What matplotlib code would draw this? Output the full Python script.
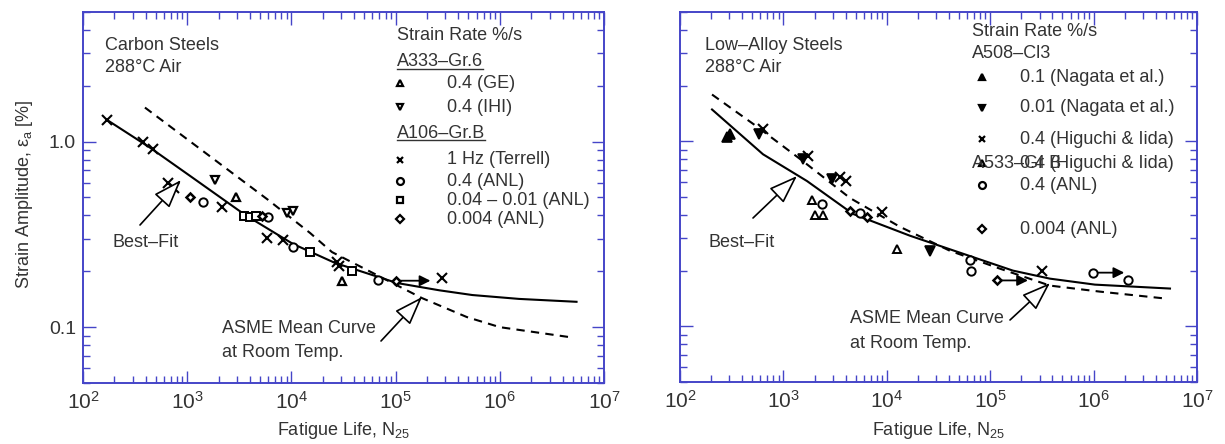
import matplotlib
matplotlib.use('Agg')
import matplotlib.pyplot as plt
from matplotlib.ticker import LogLocator, NullFormatter, LogFormatterMathtext

plt.rcParams['font.family'] = ['Liberation Sans', 'DejaVu Sans']
plt.rcParams['mathtext.fontset'] = 'custom'
plt.rcParams['mathtext.rm'] = 'Liberation Sans'
plt.rcParams['mathtext.it'] = 'Liberation Sans:italic'
plt.rcParams['mathtext.default'] = 'regular'

W, H = 1225, 444
TXT = '#333333'
SPINE = '#4545c8'

# ---------------- Carbon steels (left) ----------------
cs_fit_N = [170, 440, 1060, 3590, 10350, 26200, 103000, 263000, 545000, 1530000, 5450000]
cs_fit_eps = [1.31, 0.928, 0.655, 0.403, 0.281, 0.222, 0.173, 0.158, 0.149, 0.142, 0.137]
cs_asme_N = [393, 5960, 15100, 24500, 179000, 484000, 1000000, 4720000]
cs_asme_eps = [1.527, 0.486, 0.322, 0.254, 0.1435, 0.1133, 0.100, 0.0883]

cs_ge_N = [2940, 30600]
cs_ge_eps = [0.504, 0.177]
cs_ihi_N = [1850, 9080, 10350]
cs_ihi_eps = [0.62, 0.413, 0.424]
cs_terrell_N = [170, 377, 470, 655, 746, 2160, 5830, 8300, 27400, 28500, 279000]
cs_terrell_eps = [1.31, 1.0, 0.917, 0.60, 0.564, 0.445, 0.303, 0.296, 0.224, 0.213, 0.184]
cs_anl04_N = [1420, 5960, 10350, 67700]
cs_anl04_eps = [0.474, 0.393, 0.271, 0.179]
cs_anl004_01_N = [3510, 4010, 4570, 15100, 38200]
cs_anl004_01_eps = [0.398, 0.393, 0.398, 0.254, 0.201]
cs_anl0004_N = [1060, 5220, 101000]
cs_anl0004_eps = [0.504, 0.398, 0.177]
cs_runout_N = [108000]
cs_runout_eps = [0.178]

# ---------------- Low-alloy steels (right) ----------------
las_fit_N = [204, 635, 1690, 4710, 16700, 51000, 166000, 378000, 1030000, 5480000]
las_fit_eps = [1.486, 0.851, 0.61, 0.405, 0.309, 0.25, 0.20, 0.181, 0.168, 0.16]
las_asme_N = [204, 556, 1550, 4400, 13400, 40800, 124000, 378000, 1150000, 5130000]
las_asme_eps = [1.79, 1.2, 0.78, 0.494, 0.345, 0.256, 0.205, 0.166, 0.154, 0.141]

las_nag01_N = [285, 305]
las_nag01_eps = [1.06, 1.10]
las_nag001_N = [580, 1550, 2950, 26200]
las_nag001_eps = [1.10, 0.80, 0.625, 0.256]
las_hig_N = [635, 1730, 3520, 4030, 9000, 316000]
las_hig_eps = [1.16, 0.83, 0.64, 0.61, 0.415, 0.20]
las_a533_N = [1890, 2020, 2420, 12600]
las_a533_eps = [0.482, 0.40, 0.40, 0.263]
las_anl04_N = [2360, 5500, 63800, 65200, 990000, 2150000]
las_anl04_eps = [0.458, 0.41, 0.227, 0.20, 0.195, 0.179]
las_anl0004_N = [4400, 6440, 116000]
las_anl0004_eps = [0.42, 0.39, 0.177]
las_runout_N = [116000, 990000]
las_runout_eps = [0.177, 0.195]

xticks = [1e2, 1e3, 1e4, 1e5, 1e6, 1e7]
yticks = [0.1, 1.0]
ytick_labels = ['0.1', '1.0']

fig = plt.figure(figsize=(W / 100, H / 100), dpi=100)
axL = fig.add_axes([83 / W, (H - 383) / H, 521 / W, 371 / H])
axR = fig.add_axes([680 / W, (H - 382) / H, 517 / W, 370 / H])


def style_axis(ax, show_ylabels):
    ax.set_xscale('log')
    ax.set_yscale('log')
    ax.set_xlim(1e2, 1e7)
    ax.set_ylim(0.05, 5)
    ax.set_xticks(xticks)
    ax.xaxis.set_major_formatter(LogFormatterMathtext())
    ax.xaxis.set_minor_locator(LogLocator(base=10, subs=range(2, 10), numticks=20))
    ax.xaxis.set_minor_formatter(NullFormatter())
    ax.set_yticks(yticks)
    if show_ylabels:
        ax.set_yticklabels(ytick_labels)
    else:
        ax.set_yticklabels([])
    ax.yaxis.set_minor_locator(LogLocator(base=10, subs=range(2, 10), numticks=20))
    ax.yaxis.set_minor_formatter(NullFormatter())
    ax.tick_params(which='both', direction='in', top=True, right=True, color=SPINE, width=1.0)
    ax.tick_params(which='major', length=9)
    ax.tick_params(which='minor', length=5)
    ax.tick_params(axis='x', which='major', labelsize=15, labelcolor=TXT, pad=6)
    ax.tick_params(axis='y', which='major', labelsize=14, labelcolor=TXT, pad=5)
    for sp in ax.spines.values():
        sp.set_color(SPINE)
        sp.set_linewidth(1.4)


style_axis(axL, True)
style_axis(axR, False)

mk = dict(ls='none', mec='black', color='black', zorder=4)

# left curves
axL.plot(cs_fit_N, cs_fit_eps, color='black', lw=1.5, zorder=3)
axL.plot(cs_asme_N, cs_asme_eps, color='black', lw=1.5, ls=(0, (4, 3)), zorder=3)
axL.plot(cs_ge_N, cs_ge_eps, marker='^', ms=6, mfc='white', mew=1.6, **mk)
axL.plot(cs_ihi_N, cs_ihi_eps, marker='v', ms=6, mfc='white', mew=1.6, **mk)
axL.plot(cs_terrell_N, cs_terrell_eps, marker='x', ms=7, mew=1.5, **mk)
axL.plot(cs_anl04_N, cs_anl04_eps, marker='o', ms=6, mfc='white', mew=1.4, **mk)
axL.plot(cs_anl004_01_N, cs_anl004_01_eps, marker='s', ms=6, mfc='white', mew=1.4, **mk)
axL.plot(cs_anl0004_N, cs_anl0004_eps, marker='D', ms=4.5, mfc='white', mew=1.8, **mk)
for n, e in zip(cs_runout_N, cs_runout_eps):
    axL.annotate('', xy=(n * 2.0, e), xytext=(n, e),
                 arrowprops=dict(arrowstyle='-|>', color='black', lw=1.3,
                                 mutation_scale=16, shrinkA=0, shrinkB=0))

# right curves
axR.plot(las_fit_N, las_fit_eps, color='black', lw=1.5, zorder=3)
axR.plot(las_asme_N, las_asme_eps, color='black', lw=1.5, ls=(0, (4, 3)), zorder=3)
axR.plot(las_nag01_N, las_nag01_eps, marker='^', ms=7, mfc='black', mew=1.2, **mk)
axR.plot(las_nag001_N, las_nag001_eps, marker='v', ms=7, mfc='black', mew=1.2, **mk)
axR.plot(las_hig_N, las_hig_eps, marker='x', ms=7, mew=1.5, **mk)
axR.plot(las_a533_N, las_a533_eps, marker='^', ms=6, mfc='white', mew=1.4, **mk)
axR.plot(las_anl04_N, las_anl04_eps, marker='o', ms=6, mfc='white', mew=1.4, **mk)
axR.plot(las_anl0004_N, las_anl0004_eps, marker='D', ms=4.5, mfc='white', mew=1.8, **mk)
for n, e in zip(las_runout_N, las_runout_eps):
    axR.annotate('', xy=(n * 2.0, e), xytext=(n, e),
                 arrowprops=dict(arrowstyle='-|>', color='black', lw=1.3,
                                 mutation_scale=16, shrinkA=0, shrinkB=0))


def ptext(px, py, s, size=13, ha='left', **kw):
    return fig.text(px / W, 1 - py / H, s, fontsize=size, color=TXT, ha=ha, va='center', **kw)


def open_arrow(tail, tip):
    fig.add_artist(matplotlib.patches.FancyArrowPatch(
        (tail[0], H - tail[1]), (tip[0], H - tip[1]), transform=None,
        arrowstyle='-|>,head_length=0.9,head_width=0.32', mutation_scale=20,
        fc='white', ec='black', lw=1.2, shrinkA=0, shrinkB=0, zorder=5))


# labels
fig.text(25 / W, 1 - 194 / H, 'Strain Amplitude, ε$_a$ [%]', rotation=90, fontsize=13,
         color=TXT, ha='center', va='center')
ptext(343, 430, 'Fatigue Life, N$_{25}$', ha='center')
ptext(938, 430, 'Fatigue Life, N$_{25}$', ha='center')

# left annotations
ptext(105, 45, 'Carbon Steels')
ptext(105, 68, '288°C Air')
ptext(397, 35, 'Strain Rate %/s')
hdr1 = ptext(397, 62, 'A333–Gr.6')
hdr2 = ptext(397, 133, 'A106–Gr.B')
left_rows = [(83, '^', 'white', '0.4 (GE)'), (107, 'v', 'white', '0.4 (IHI)'),
             (160, 'x', 'black', '1 Hz (Terrell)'), (181, 'o', 'white', '0.4 (ANL)'),
             (200, 's', 'white', '0.04 – 0.01 (ANL)'), (219, 'D', 'white', '0.004 (ANL)')]
for py, m, fc, lab in left_rows:
    fig.add_artist(matplotlib.lines.Line2D([400 / W], [1 - py / H], marker=m, ms=5 if m != 'D' else 4,
                                           mfc=fc, mec='black', mew=1.6, color='black',
                                           transform=fig.transFigure))
    ptext(447, py, lab)
ptext(112, 242, 'Best–Fit')
open_arrow((140, 225), (181, 180))
ptext(222, 328, 'ASME Mean Curve')
ptext(222, 352, 'at Room Temp.')
open_arrow((381, 341), (422, 297))

# right annotations
ptext(705, 45, 'Low–Alloy Steels')
ptext(705, 68, '288°C Air')
ptext(972, 32, 'Strain Rate %/s')
ptext(972, 54, 'A508–Cl3')
right_rows = [(77, '^', 'black', '0.1 (Nagata et al.)'), (108, 'v', 'black', '0.01 (Nagata et al.)'),
              (139, 'x', 'black', '0.4 (Higuchi & Iida)'), (163, '^', 'white', '0.4 (Higuchi & Iida)'),
              (185, 'o', 'white', '0.4 (ANL)'), (229, 'D', 'white', '0.004 (ANL)')]
for py, m, fc, lab in right_rows:
    fig.add_artist(matplotlib.lines.Line2D([982 / W], [1 - py / H], marker=m, ms=5 if m != 'D' else 4,
                                           mfc=fc, mec='black', mew=1.6, color='black',
                                           transform=fig.transFigure))
    ptext(1020, py, lab)
ptext(972, 163, 'A533–Gr B')
ptext(708, 242, 'Best–Fit')
open_arrow((753, 218), (797, 176))
ptext(850, 318, 'ASME Mean Curve')
ptext(850, 343, 'at Room Temp.')
open_arrow((1010, 320), (1050, 283))

# underline the material headers
fig.canvas.draw()
r = fig.canvas.get_renderer()
for t in (hdr1, hdr2):
    bb = t.get_window_extent(r)
    fig.add_artist(matplotlib.lines.Line2D([bb.x0 / W, bb.x1 / W], [(bb.y0 + 1) / H] * 2,
                                           color=TXT, lw=1.0, transform=fig.transFigure))

fig.savefig('out.png', dpi=100)
